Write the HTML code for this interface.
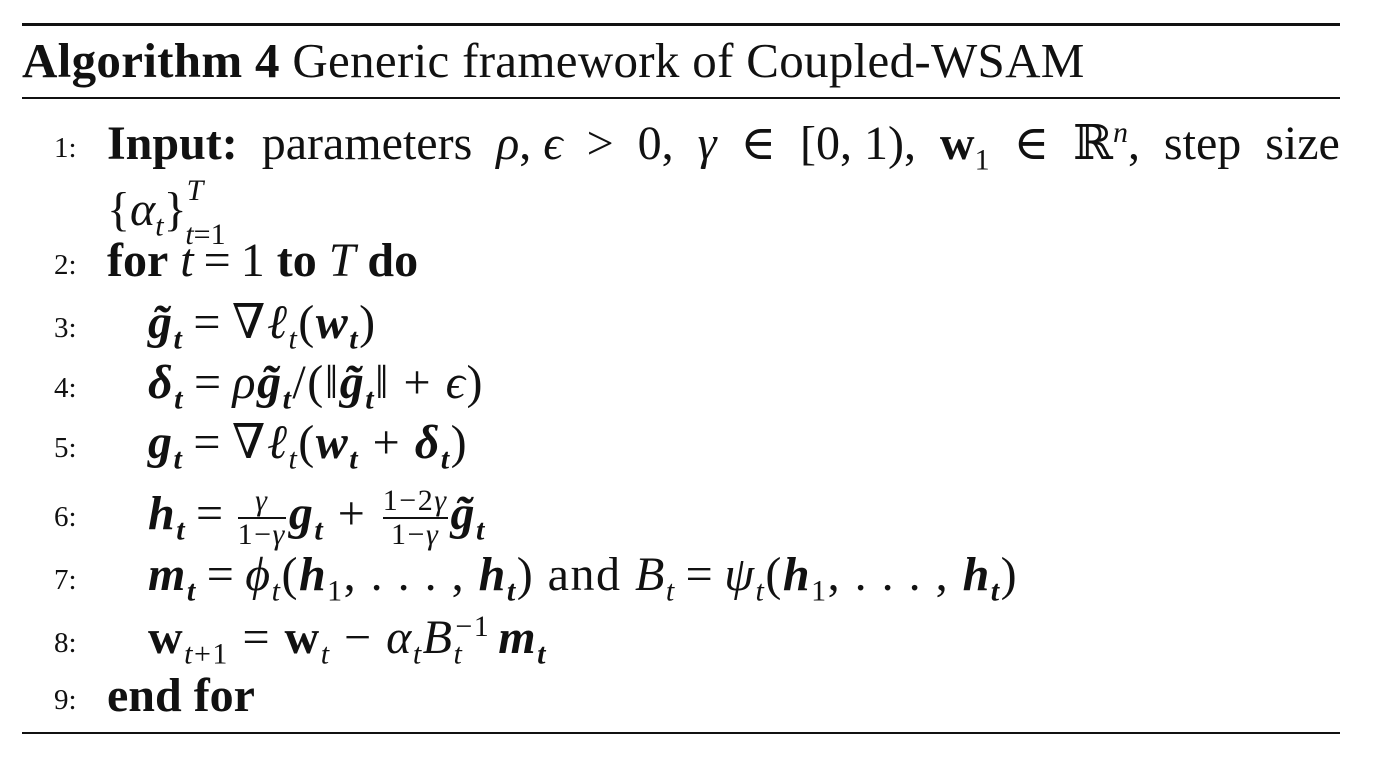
<!DOCTYPE html>
<html><head><meta charset="utf-8"><style>
body{margin:0;width:1380px;height:768px;background:#fff;position:relative;overflow:hidden;font-family:"Liberation Serif","DejaVu Serif",serif;color:#111}
.r{position:absolute;left:22px;width:1318px;background:#111}
.l{position:absolute;font-size:48px;line-height:48px;white-space:nowrap}
.m{letter-spacing:1.5px}
.n{position:absolute;left:54px;font-size:29px;line-height:29px}
i{font-style:italic}
.v{font-style:italic;font-weight:bold}
sub,sup{font-size:30px;line-height:0}
.e{margin:0 10px}
.fr{display:inline-block;vertical-align:middle;text-align:center;font-size:30px;line-height:32px;margin:0 3px}
.fr span{display:block}
.fr .d{border-top:2px solid #111}
</style></head><body>
<div class="r" style="top:23px;height:3px"></div>
<div class="l" style="left:22px;top:37px;font-size:49px;letter-spacing:0.3px"><b>Algorithm 4</b> Generic framework of Coupled-WSAM</div>
<div class="r" style="top:97px;height:2px"></div>

<div class="n" style="top:134px">1:</div>
<div class="l" style="left:107px;top:120px;width:1233px;display:flex;justify-content:space-between"><span><b>Input:</b></span><span>parameters</span><span><i>ρ</i>, <i>ϵ</i></span><span>&gt;</span><span>0,</span><span><i>γ</i></span><span>∈</span><span>[0, 1),</span><span><b>w</b><sub>1</sub></span><span>∈</span><span>ℝ<sup><i>n</i></sup>,</span><span>step</span><span>size</span></div>
<div class="l" style="left:107px;top:186px">{<i>α<sub>t</sub></i>}<sup style="position:relative;top:-8px"><i>T</i></sup><sub style="position:relative;left:-18px;top:8px"><i>t</i>=1</sub></div>

<div class="n" style="top:251px">2:</div>
<div class="l" style="left:107px;top:237px"><b>for</b> <i>t</i><span class="e">=</span>1 <b>to</b> <i>T</i> <b>do</b></div>

<div class="n" style="top:314px">3:</div>
<div class="l m" style="left:148px;top:299px"><span class="v">g̃<sub>t</sub></span><span class="e">=</span>∇<i>ℓ<sub>t</sub></i>(<span class="v">w<sub>t</sub></span>)</div>

<div class="n" style="top:374px">4:</div>
<div class="l m" style="left:148px;top:359px"><span class="v">δ<sub>t</sub></span><span class="e">=</span><i>ρ</i><span class="v">g̃<sub>t</sub></span>/(‖<span class="v">g̃<sub>t</sub></span>‖ + <i>ϵ</i>)</div>

<div class="n" style="top:434px">5:</div>
<div class="l m" style="left:148px;top:419px"><span class="v">g<sub>t</sub></span><span class="e">=</span>∇<i>ℓ<sub>t</sub></i>(<span class="v">w<sub>t</sub></span> + <span class="v">δ<sub>t</sub></span>)</div>

<div class="n" style="top:503px">6:</div>
<div class="l m" style="left:148px;top:485px"><span class="v">h<sub>t</sub></span><span class="e">=</span><span class="fr"><span><i>γ</i></span><span class="d">1−<i>γ</i></span></span><span class="v">g<sub>t</sub></span> + <span class="fr"><span>1−2<i>γ</i></span><span class="d">1−<i>γ</i></span></span><span class="v">g̃<sub>t</sub></span></div>

<div class="n" style="top:566px">7:</div>
<div class="l m" style="left:148px;top:551px"><span class="v">m<sub>t</sub></span><span class="e">=</span><i>ϕ<sub>t</sub></i>(<span class="v">h</span><sub>1</sub>, . . . , <span class="v">h<sub>t</sub></span>) and <i>B<sub>t</sub></i><span class="e">=</span><i>ψ<sub>t</sub></i>(<span class="v">h</span><sub>1</sub>, . . . , <span class="v">h<sub>t</sub></span>)</div>

<div class="n" style="top:629px">8:</div>
<div class="l m" style="left:148px;top:614px"><b>w</b><sub><i>t</i>+1</sub> = <b>w</b><sub><i>t</i></sub> − <i>α<sub>t</sub>B</i><sub><i>t</i></sub><sup style="position:relative;left:-8px">−1</sup><span class="v">m<sub>t</sub></span></div>

<div class="n" style="top:686px">9:</div>
<div class="l" style="left:107px;top:672px"><b>end for</b></div>
<div class="r" style="top:732px;height:2px"></div>
</body></html>
